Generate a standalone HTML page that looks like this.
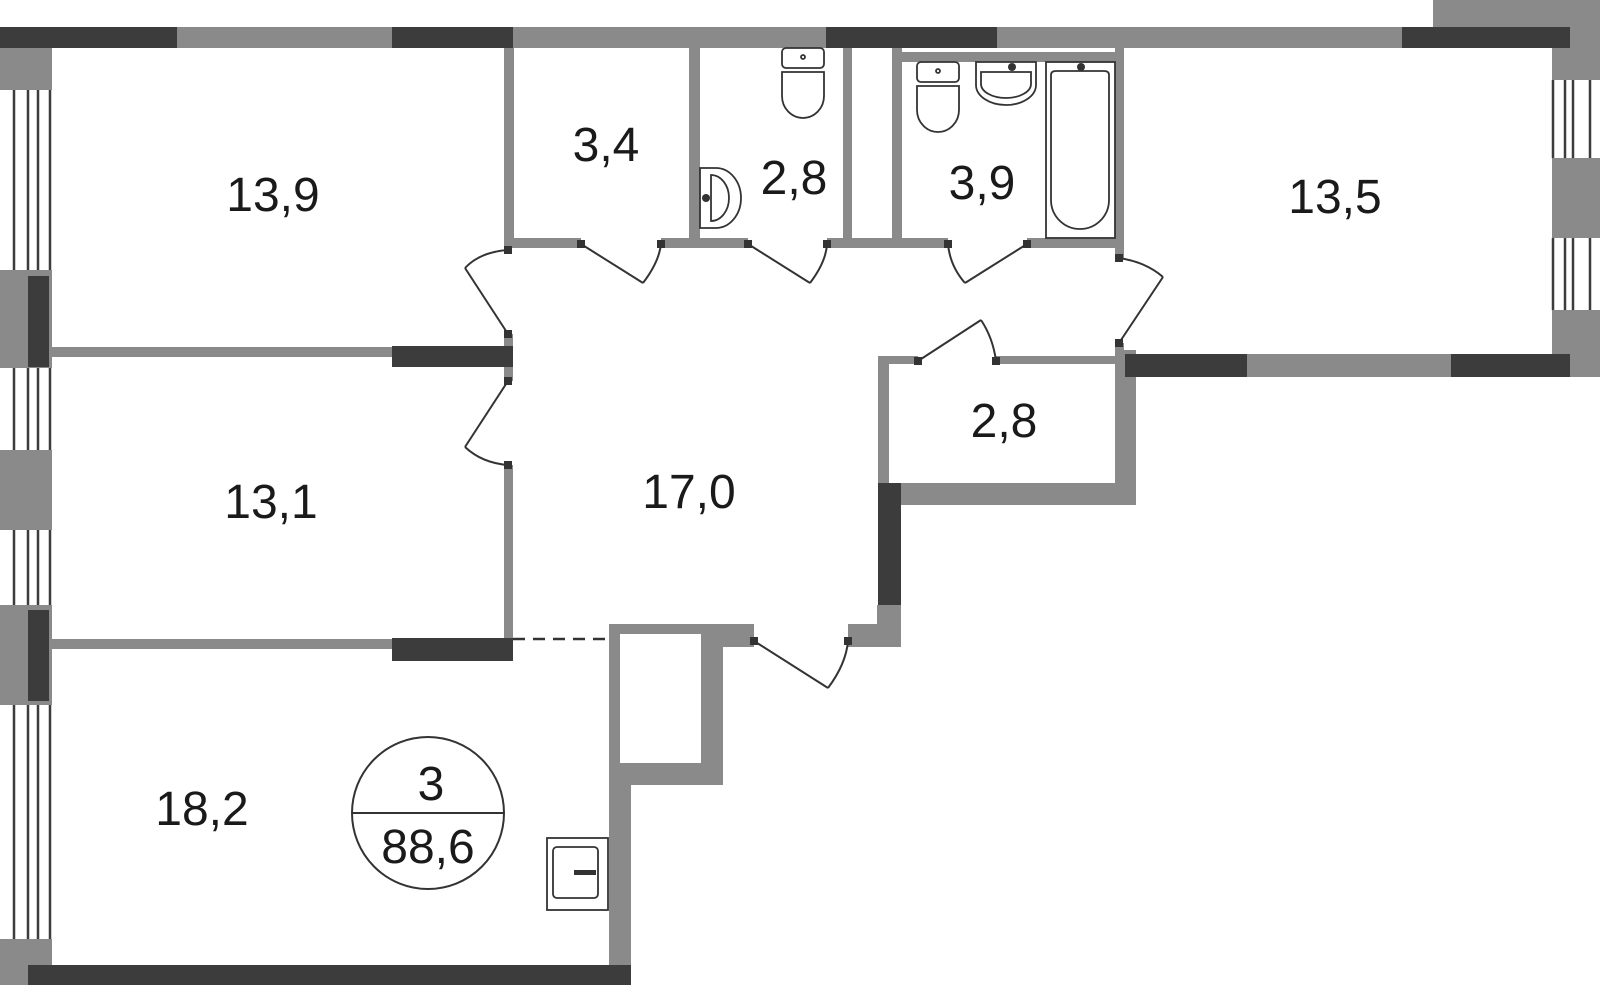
<!DOCTYPE html>
<html><head><meta charset="utf-8"><style>
html,body{margin:0;padding:0;background:#fff;}
svg{display:block;}
text{font-family:"Liberation Sans",Arial,sans-serif;fill:#1a1a1a;}
</style></head><body>
<svg width="1600" height="985" viewBox="0 0 1600 985" xmlns="http://www.w3.org/2000/svg">
<g fill="#8a8a8a">
<!-- top wall -->
<rect x="177" y="27" width="215" height="21"/>
<rect x="513" y="27" width="313" height="21"/>
<rect x="997" y="27" width="405" height="21"/>
<rect x="1570" y="27" width="30" height="53"/>
<rect x="1433" y="0" width="167" height="27"/>
<!-- left wall blocks -->
<rect x="0" y="48" width="52" height="42"/>
<rect x="0" y="270" width="52" height="98"/>
<rect x="0" y="450" width="52" height="80"/>
<rect x="0" y="605" width="52" height="100"/>
<rect x="0" y="939" width="52" height="26"/>
<rect x="0" y="965" width="28" height="20"/>
<!-- right wall blocks -->
<rect x="1552" y="48" width="48" height="32"/>
<rect x="1552" y="158" width="48" height="80"/>
<rect x="1552" y="310" width="48" height="67"/>
<rect x="1247" y="354" width="204" height="23"/>
<rect x="1570" y="354" width="30" height="23"/>
<!-- interior partitions -->
<rect x="52" y="347" width="340" height="10"/>
<rect x="52" y="639" width="340" height="10"/>
<rect x="504" y="48" width="10" height="200"/>
<rect x="504" y="334" width="9" height="47"/>
<rect x="504" y="465" width="9" height="175"/>
<rect x="689" y="48" width="11" height="192"/>
<rect x="843" y="48" width="9" height="192"/>
<rect x="892" y="48" width="10" height="192"/>
<rect x="902" y="52" width="213" height="10"/>
<rect x="1115" y="48" width="9" height="210"/>
<rect x="514" y="238" width="67" height="10"/>
<rect x="661" y="238" width="87" height="10"/>
<rect x="827" y="238" width="121" height="10"/>
<rect x="1027" y="238" width="88" height="10"/>
<rect x="1115" y="343" width="9" height="13"/>
<!-- small room 2,8 -->
<rect x="878" y="356" width="40" height="8"/>
<rect x="996" y="356" width="119" height="8"/>
<rect x="878" y="356" width="11" height="127"/>
<rect x="1115" y="350" width="21" height="155"/>
<rect x="878" y="483" width="258" height="22"/>
<rect x="877" y="605" width="24" height="42"/>
<rect x="848" y="624" width="30" height="23"/>
<!-- storage -->
<rect x="609" y="624" width="145" height="10"/>
<rect x="701" y="624" width="53" height="23"/>
<rect x="609" y="624" width="11" height="161"/>
<rect x="701" y="624" width="22" height="161"/>
<rect x="609" y="763" width="114" height="22"/>
<rect x="609" y="763" width="22" height="202"/>
</g>
<g fill="#3c3c3c">
<rect x="0" y="27" width="177" height="21"/>
<rect x="392" y="27" width="121" height="21"/>
<rect x="826" y="27" width="171" height="21"/>
<rect x="1402" y="27" width="168" height="21"/>
<rect x="28" y="276" width="21" height="91"/>
<rect x="28" y="610" width="21" height="91"/>
<rect x="392" y="346" width="121" height="21"/>
<rect x="392" y="638" width="121" height="23"/>
<rect x="1125" y="354" width="122" height="23"/>
<rect x="1451" y="354" width="119" height="23"/>
<rect x="878" y="483" width="23" height="122"/>
<rect x="28" y="965" width="603" height="20"/>
</g>
<!-- windows -->
<g stroke="#3c3c3c" stroke-width="2.5">
<path d="M14 90V270M28 90V270M38 90V270M50 90V270"/>
<path d="M14 368V450M28 368V450M38 368V450M50 368V450"/>
<path d="M14 530V605M28 530V605M38 530V605M50 530V605"/>
<path d="M14 705V939M28 705V939M38 705V939M50 705V939"/>
<path d="M1553 80V158M1565 80V158M1573 80V158M1590 80V158"/>
<path d="M1553 238V310M1565 238V310M1573 238V310M1590 238V310"/>
</g>
<!-- doors -->
<g stroke="#333" stroke-width="2" fill="none">
<path d="M581 244L643 283"/><path d="M643 283Q659 262 661 244"/>
<path d="M748 244L810 283"/><path d="M810 283Q826 262 827 244"/>
<path d="M1027 244L965 283"/><path d="M965 283Q950 266 948 244"/>
<path d="M508 250Q480 252 465 268"/><path d="M465 268L508 334"/>
<path d="M508 381L465 447"/><path d="M465 447Q482 463 508 465"/>
<path d="M1119 258Q1146 262 1163 277"/><path d="M1163 277L1119 343"/>
<path d="M918 361L981 320"/><path d="M981 320Q993 338 996 361"/>
<path d="M754 641L828 688"/><path d="M828 688Q846 664 848 641"/>
<path d="M513 639H609" stroke-dasharray="12 8" stroke-width="2.5"/>
</g>
<g fill="#333">
<rect x="577" y="240" width="8" height="8"/><rect x="657" y="240" width="8" height="8"/>
<rect x="744" y="240" width="8" height="8"/><rect x="823" y="240" width="8" height="8"/>
<rect x="944" y="240" width="8" height="8"/><rect x="1023" y="240" width="8" height="8"/>
<rect x="504" y="246" width="8" height="8"/><rect x="504" y="330" width="8" height="8"/>
<rect x="504" y="377" width="8" height="8"/><rect x="504" y="461" width="8" height="8"/>
<rect x="1115" y="254" width="8" height="8"/><rect x="1115" y="339" width="8" height="8"/>
<rect x="914" y="357" width="8" height="8"/><rect x="992" y="357" width="8" height="8"/>
<rect x="750" y="637" width="8" height="8"/><rect x="844" y="637" width="8" height="8"/>
</g>
<!-- fixtures -->
<g stroke="#333" stroke-width="1.8" fill="#fff">
<rect x="782" y="48" width="42" height="20" rx="4"/>
<path d="M782 72H824V96A21 22 0 0 1 782 96Z"/>
<circle cx="803" cy="57" r="2"/>
<rect x="917" y="62" width="42" height="20" rx="4"/>
<path d="M917 86H959V110A21 22 0 0 1 917 110Z"/>
<circle cx="938" cy="71" r="2"/>
<path d="M976 62H1036V85A30 20 0 0 1 976 85Z"/>
<path d="M981 72H1031V84A25 14 0 0 1 981 84Z"/>
<rect x="1046" y="62" width="69" height="176"/>
<path d="M1051 75Q1051 71 1056 71H1104Q1109 71 1109 75V200A29 29 0 0 1 1051 200Z"/>
<path d="M700 168H716A25 30 0 0 1 716 228H700Z"/>
<path d="M711 175A18 23 0 0 1 711 221V175Z"/>
<rect x="547" y="838" width="61" height="72"/>
<rect x="553" y="847" width="45" height="51" rx="4"/>
</g>
<g fill="#333"><circle cx="706" cy="198" r="4"/><circle cx="1012" cy="67" r="4"/><circle cx="1081" cy="67" r="4"/><rect x="574" y="870" width="22" height="5"/></g>
<!-- circle -->
<circle cx="428" cy="813" r="76" fill="none" stroke="#333" stroke-width="2"/>
<line x1="352" y1="813" x2="504" y2="813" stroke="#333" stroke-width="2"/>
<g font-size="48" text-anchor="middle">
<text x="273" y="211">13,9</text>
<text x="606" y="161">3,4</text>
<text x="794" y="194">2,8</text>
<text x="982" y="199">3,9</text>
<text x="1335" y="213">13,5</text>
<text x="1004" y="437">2,8</text>
<text x="689" y="508">17,0</text>
<text x="271" y="518">13,1</text>
<text x="202" y="825">18,2</text>
<text x="431" y="800">3</text>
<text x="428" y="863">88,6</text>
</g>
</svg>
</body></html>
